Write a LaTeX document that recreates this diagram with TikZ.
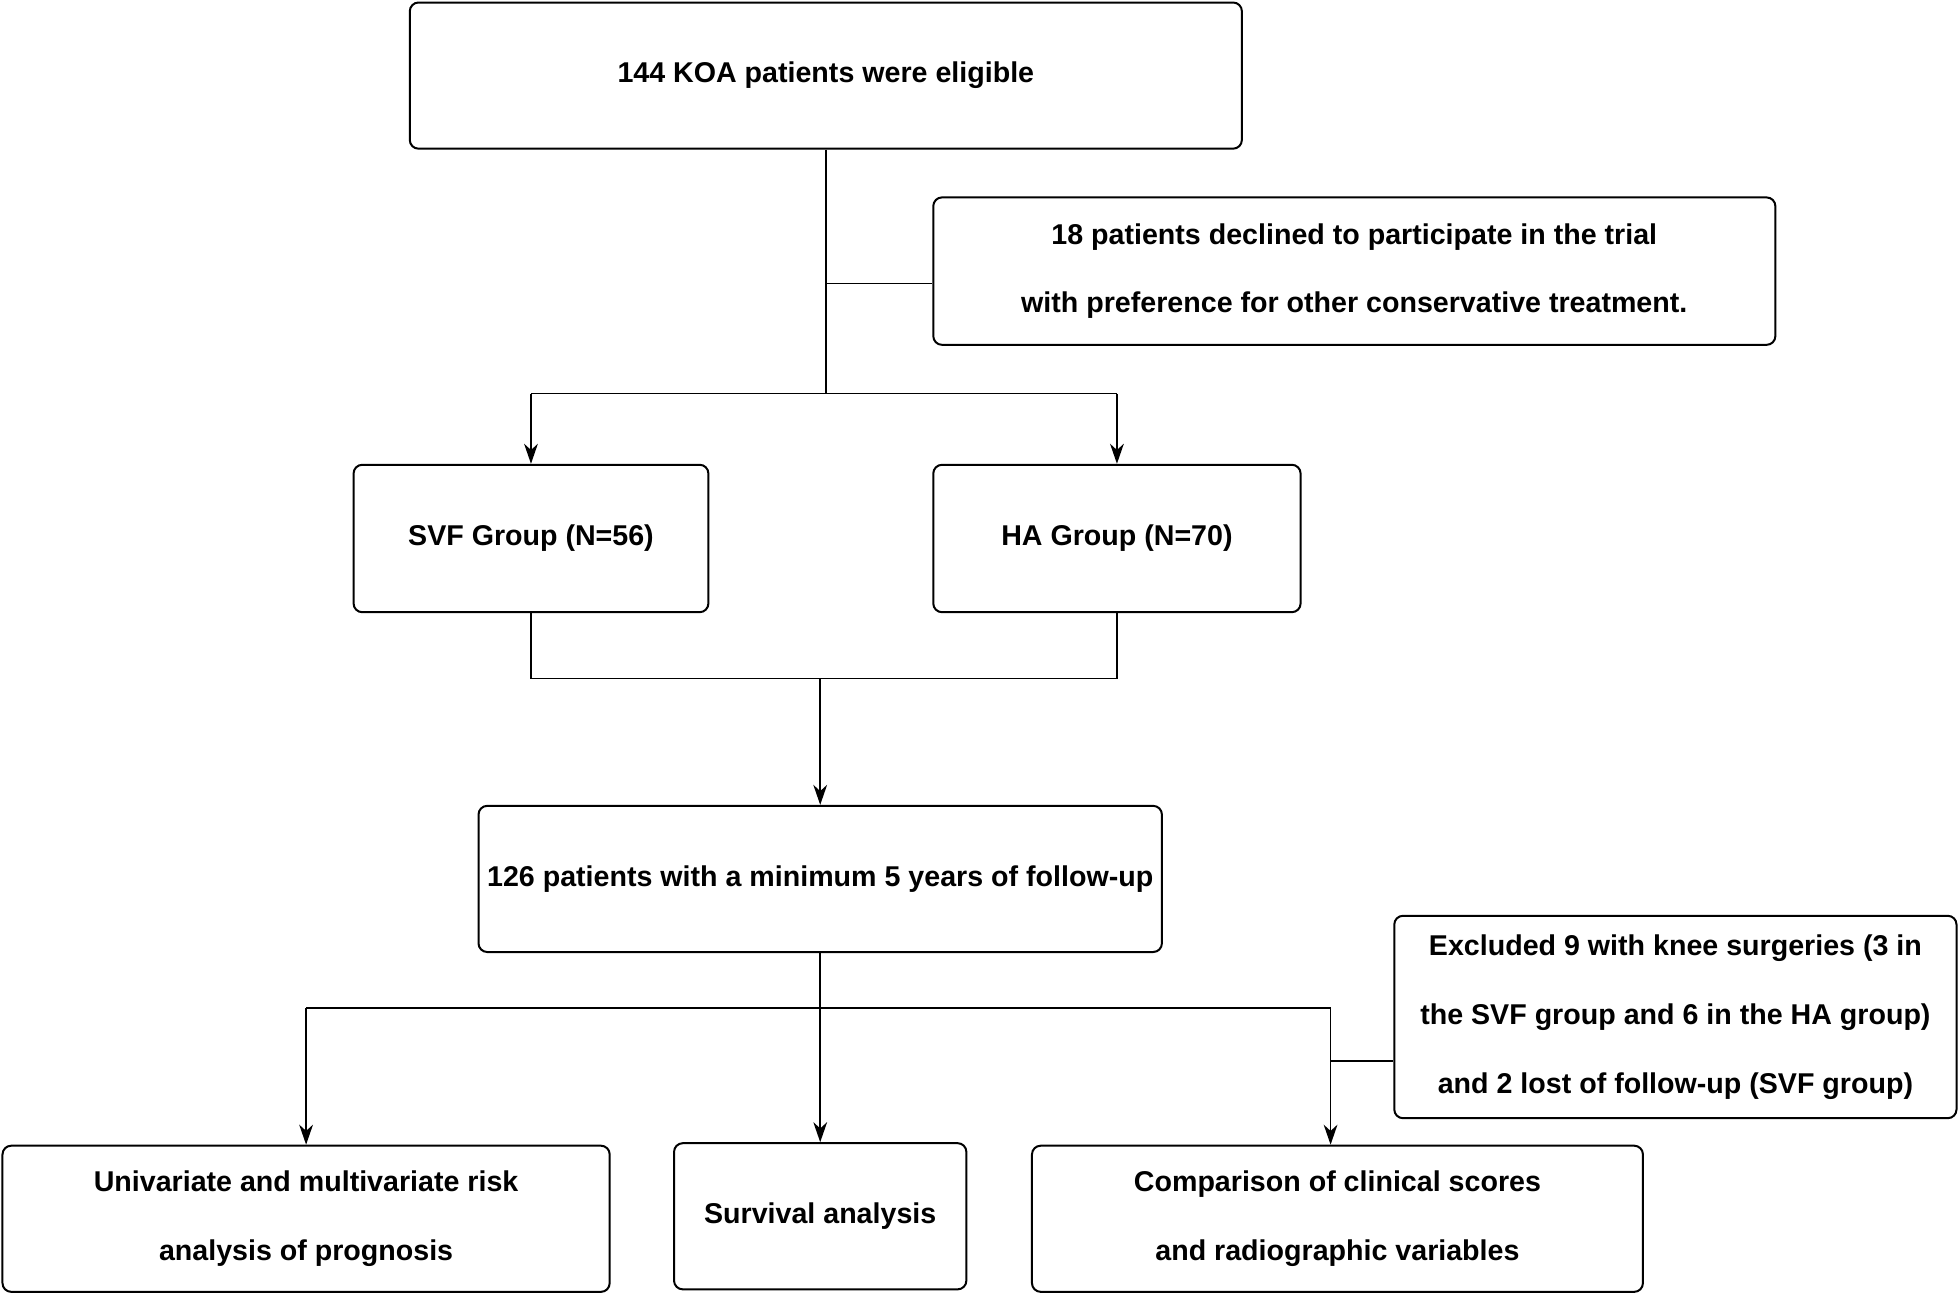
\documentclass[tikz,border=0pt]{standalone}
\usepackage{fontspec}
\setmainfont{Liberation Sans}
\usetikzlibrary{arrows.meta}
\begin{document}
\begin{tikzpicture}[x=1pt,y=-1pt,
  box/.style={draw=black,line width=1.6pt,rounded corners=7pt,inner sep=0pt,
    align=center,font=\fontsize{22.9}{55}\selectfont\bfseries},
  conn/.style={line width=1.4pt},
  arr/.style={line width=1.4pt,-{Stealth[length=16pt,width=11pt,inset=5pt]}}]
\useasboundingbox (0,0) rectangle (1568,1037);
\node[box,minimum width=666pt,minimum height=117pt] (top) at (661,60.5) {144 KOA patients were eligible};
\node[box,minimum width=674pt,minimum height=118pt] (decl) at (1084,217) {18 patients declined to participate in the trial\\with preference for other conservative treatment.};
\node[box,minimum width=284pt,minimum height=118pt] (svf) at (425,431) {SVF Group (N=56)};
\node[box,minimum width=294pt,minimum height=118pt] (ha) at (894,431) {HA Group (N=70)};
\node[box,minimum width=547pt,minimum height=117pt] (mid) at (656.5,703.5) {126 patients with a minimum 5 years of follow-up};
\node[box,minimum width=450pt,minimum height=162pt] (excl) at (1341,814) {Excluded 9 with knee surgeries (3 in\\the SVF group and 6 in the HA group)\\and 2 lost of follow-up (SVF group)};
\node[box,minimum width=486pt,minimum height=117pt] (uni) at (245,975.5) {Univariate and multivariate risk\\analysis of prognosis};
\node[box,minimum width=234pt,minimum height=117pt] (surv) at (656.5,973.5) {Survival analysis};
\node[box,minimum width=489pt,minimum height=117pt] (comp) at (1070.5,975.5) {Comparison of clinical scores\\and radiographic variables};

\coordinate (j1) at (661,315);
\coordinate (b1) at (661,227);
\coordinate (j2) at (656.5,543);
\coordinate (j3) at (656.5,807);
\coordinate (j3r) at (1065,807);
\coordinate (b2) at (1065,849);

\draw[conn] (top.south) -- (j1);
\draw[conn] (b1) -- (b1 -| decl.west);
\draw[conn] (svf.north |- j1) -- (ha.north |- j1);
\draw[arr] (svf.north |- j1) -- (svf.north);
\draw[arr] (ha.north |- j1) -- (ha.north);
\draw[conn] (svf.south) -- (svf.south |- j2) -- (ha.south |- j2) -- (ha.south);
\draw[arr] (j2) -- (mid.north);
\draw[arr] (mid.south) -- (surv.north);
\draw[conn] (uni.north |- j3) -- (j3r);
\draw[arr] (uni.north |- j3) -- (uni.north);
\draw[arr] (j3r) -- (j3r |- comp.north);
\draw[conn] (b2) -- (b2 -| excl.west);
\end{tikzpicture}
\end{document}
